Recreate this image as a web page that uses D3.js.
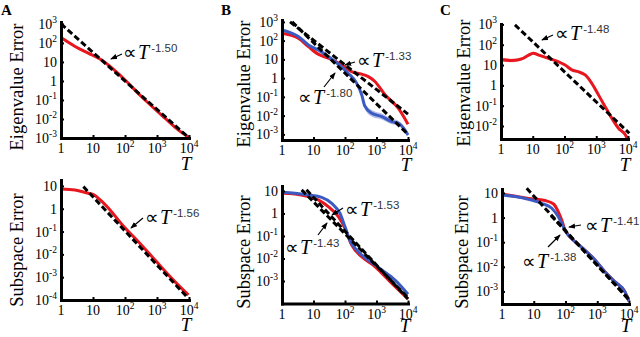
<!DOCTYPE html>
<html lang="en">
<head>
<meta charset="UTF-8">
<title>Eigenvalue and subspace error vs T</title>
<script src="https://cdnjs.cloudflare.com/ajax/libs/d3/7.8.5/d3.min.js"></script>
<style>
  body { margin: 0; background: #fff; }
  svg { display: block; font-family: "Liberation Serif", "Times New Roman", serif; }
</style>
</head>
<body>
<div id="chart"></div>
<script>
// ---- values ----
var xTicks = [1, 10, 100, 1000, 10000];

// A: eigenvalue error
var aEigT = [1, 2.75, 7.1, 18.6, 79, 330, 1780, 4680, 10000];
var aEigRed = [190, 65, 29, 12.6, 1.66, 0.148, 0.011, 0.0026, 0.0011];
var aEigFitT = [1, 10000];
var aEigFit = [1000, 0.001];

// A: subspace error
var aSubT = [1, 2.75, 7.1, 10, 18.6, 38, 79, 263, 870, 2880, 9550];
var aSubRed = [7.4, 6.6, 4.8, 4.3, 2.14, 0.74, 0.21, 0.036, 0.0056, 0.00089, 0.000166];
var aSubFitT = [5, 8500];
var aSubFit = [9.3, 0.00014];

// B: eigenvalue error
var bEigRedT = [1, 3.3, 6.9, 14.1, 29.5, 77.6, 162, 339, 550, 891, 1862, 4898, 10000];
var bEigRed = [250, 135, 48, 19, 11.5, 5.1, 2.24, 1.62, 1.2, 0.66, 0.129, 0.025, 0.0035];
var bEigBlueT = [1, 3.3, 6.9, 14.1, 29.5, 61.7, 126, 234, 339, 427, 708, 1480, 3020, 4900, 7940, 10000];
var bEigBlue = [370, 166, 59, 32, 14.1, 5.5, 1.82, 0.54, 0.129, 0.032, 0.0135, 0.0089, 0.0048, 0.004, 0.00174, 0.00093];
var bEigBlueSpread = [1.1, 1.1, 1.1, 1.1, 1.1, 1.1, 1.12, 1.15, 1.25, 1.4, 1.5, 1.45, 1.4, 1.35, 1.25, 1.2];
var bEigFit1T = [1.8, 10000];
var bEigFit1 = [1000, 0.012];
var bEigFit2T = [2.1, 10000];
var bEigFit2 = [1000, 0.001];

// B: subspace error
var bSubRedT = [1, 2.57, 6.9, 14.1, 29.5, 61.7, 100, 162, 339, 891, 3020, 10000];
var bSubRed = [7.9, 7.4, 5.6, 4.0, 2.0, 0.72, 0.22, 0.04, 0.012, 0.0044, 0.00079, 0.000158];
var bSubBlueT = [1, 2.57, 6.9, 18.2, 38, 69, 100, 141, 263, 550, 1480, 3890, 10000];
var bSubBlue = [8.7, 7.9, 6.6, 5.2, 2.8, 1.02, 0.257, 0.066, 0.02, 0.0085, 0.0031, 0.0011, 0.00026];
var bSubFit1T = [6, 10000];
var bSubFit1 = [11.2, 0.00016];
var bSubFit2T = [4.2, 10000];
var bSubFit2 = [11.2, 0.00018];

// C: eigenvalue error
var cEigT = [1, 2.2, 4.5, 7.2, 10.5, 14.8, 31, 63, 105, 170, 269, 447, 724, 1175, 1905, 3090, 5010, 8320, 10000];
var cEigRed = [18.6, 16.6, 20, 30, 38, 31.6, 21.4, 14.8, 10, 5.75, 4.7, 3.24, 1.26, 0.34, 0.089, 0.024, 0.0078, 0.0036, 0.002];
var cEigRedSpread = [1.22, 1.22, 1.2, 1.2, 1.18, 1.16, 1.15, 1.14, 1.12, 1.12, 1.1, 1.1, 1.08, 1.08, 1.06, 1.06, 1.06, 1.06, 1.06];
var cEigFitT = [2.75, 11000];
var cEigFit = [950, 0.0044];

// C: subspace error
var cSubRedT = [1, 6.8, 23, 42, 59, 76, 95, 123, 200, 407, 851, 1740, 3630, 7410, 10000];
var cSubRed = [9.1, 6.0, 4.9, 3.55, 1.74, 0.79, 0.33, 0.195, 0.105, 0.048, 0.019, 0.0063, 0.00245, 0.00098, 0.0004];
var cSubBlueT = [1, 2.57, 6.8, 17.8, 37, 59, 85, 110, 200, 407, 851, 1740, 3630, 7410, 10000];
var cSubBlue = [8.3, 7.1, 5.5, 3.8, 2.4, 1.1, 0.43, 0.23, 0.105, 0.048, 0.019, 0.0063, 0.00245, 0.00098, 0.0004];
var cSubFit1T = [6, 10000];
var cSubFit1 = [15.5, 0.00045];
var cSubFit2T = [35, 10000];
var cSubFit2 = [1.2, 0.00048];

// ---- layout ----
var RED = "#e8161e", BLUE = "#3b5bc2";

var panels = [
  { letter: "A", letterX: 1, title: "Eigenvalue Error", titleX: 23, titleY: 87,
    x0: 61, x1: 189, yTop: 22, yBot: 138, yMin: -3, yMax: 3.1, yTicks: [-3, -2, -1, 0, 1, 2, 3], tX: 186, tY: 170,
    curves: [{ T: aEigT, v: aEigRed, color: RED }],
    fits: [{ T: aEigFitT, v: aEigFit }],
    notes: [{ exp: "-1.50", x: 123, y: 59, from: [122, 54], to: [111, 59] }] },
  { title: "Subspace Error", titleX: 23, titleY: 250,
    x0: 61, x1: 189, yTop: 180, yBot: 300, yMin: -4, yMax: 1.26, yTicks: [-4, -3, -2, -1, 0, 1], tX: 186, tY: 331,
    curves: [{ T: aSubT, v: aSubRed, color: RED }],
    fits: [{ T: aSubFitT, v: aSubFit }],
    notes: [{ exp: "-1.56", x: 145, y: 224, from: [143, 218], to: [131, 228] }] },
  { letter: "B", letterX: 221, title: "Eigenvalue Error", titleX: 250, titleY: 84,
    x0: 282, x1: 408, yTop: 20, yBot: 140, yMin: -3.3, yMax: 3.1, yTicks: [-3, -2, -1, 0, 1, 2, 3], tX: 406, tY: 171,
    curves: [{ T: bEigRedT, v: bEigRed, color: RED },
             { T: bEigBlueT, v: bEigBlue, color: BLUE, spread: bEigBlueSpread }],
    fits: [{ T: bEigFit1T, v: bEigFit1 }, { T: bEigFit2T, v: bEigFit2 }],
    notes: [{ exp: "-1.33", x: 357, y: 67, from: [355, 62], to: [345, 65] },
            { exp: "-1.80", x: 298, y: 104, from: [324, 87], to: [335, 73] }] },
  { title: "Subspace Error", titleX: 250, titleY: 252,
    x0: 282, x1: 408, yTop: 186, yBot: 303.5, yMin: -4, yMax: 1.22, yTicks: [-3, -2, -1, 0, 1], tX: 405, tY: 332,
    curves: [{ T: bSubRedT, v: bSubRed, color: RED }, { T: bSubBlueT, v: bSubBlue, color: BLUE }],
    fits: [{ T: bSubFit1T, v: bSubFit1 }, { T: bSubFit2T, v: bSubFit2 }],
    notes: [{ exp: "-1.53", x: 345, y: 216, from: [343, 208], to: [332, 215] },
            { exp: "-1.43", x: 285, y: 254, from: [318, 235], to: [327, 223] }] },
  { letter: "C", letterX: 440, title: "Eigenvalue Error", titleX: 470, titleY: 83,
    x0: 501, x1: 628, yTop: 24, yBot: 139, yMin: -2.64, yMax: 3.02, yTicks: [-2, -1, 0, 1, 2, 3], tX: 625, tY: 171,
    curves: [{ T: cEigT, v: cEigRed, color: RED, spread: cEigRedSpread }],
    fits: [{ T: cEigFitT, v: cEigFit }],
    notes: [{ exp: "-1.48", x: 555, y: 40, from: [553, 35], to: [542, 40] }] },
  { title: "Subspace Error", titleX: 468, titleY: 252,
    x0: 502, x1: 629, yTop: 189, yBot: 304, yMin: -3.51, yMax: 1.16, yTicks: [-3, -2, -1, 0, 1], tX: 626, tY: 332,
    curves: [{ T: cSubRedT, v: cSubRed, color: RED }, { T: cSubBlueT, v: cSubBlue, color: BLUE }],
    fits: [{ T: cSubFit1T, v: cSubFit1 }, { T: cSubFit2T, v: cSubFit2 }],
    notes: [{ exp: "-1.41", x: 585, y: 232, from: [581, 225], to: [569, 227] },
            { exp: "-1.38", x: 522, y: 268, from: [548, 247], to: [560, 235] }] }
];

var svg = d3.select("#chart").append("svg").attr("width", 640).attr("height", 337);

svg.append("defs").append("marker")
  .attr("id", "arrow").attr("viewBox", "0 0 8 6").attr("refX", 7).attr("refY", 3)
  .attr("markerWidth", 7).attr("markerHeight", 6).attr("markerUnits", "userSpaceOnUse")
  .attr("orient", "auto")
  .append("path").attr("d", "M0,0L8,3L0,6Z").attr("fill", "#000");

function powLabel(sel, e) {
  if (e === 0) { sel.text("1"); return; }
  if (e === 1) { sel.text("10"); return; }
  sel.append("tspan").text("10");
  sel.append("tspan").attr("dy", -6).attr("font-size", 9.5).text(e);
}

panels.forEach(function (p) {
  var g = svg.append("g");
  var x = d3.scaleLog().domain([1, 1e4]).range([p.x0, p.x1]);
  var y = d3.scaleLog().domain([Math.pow(10, p.yMin), Math.pow(10, p.yMax)]).range([p.yBot, p.yTop]);

  var line = d3.line().x(d => x(d[0])).y(d => y(d[1])).curve(d3.curveMonotoneX);
  var area = d3.area().x(d => x(d[0])).y0(d => y(d[1] / d[2])).y1(d => y(d[1] * d[2]))
    .curve(d3.curveMonotoneX);

  // curves (with shaded spread where there is one)
  p.curves.forEach(function (c) {
    var pts = c.T.map((t, i) => [t, c.v[i], c.spread ? c.spread[i] : 1]);
    if (c.spread) {
      g.append("path").datum(pts).attr("d", area)
        .attr("fill", c.color).attr("fill-opacity", 0.4);
    }
    g.append("path").datum(pts).attr("d", line)
      .attr("fill", "none").attr("stroke", c.color).attr("stroke-width", 3);
  });

  // power-law fits
  p.fits.forEach(function (f) {
    var pts = f.T.map((t, i) => [t, f.v[i]]);
    g.append("path").datum(pts).attr("d", d3.line().x(d => x(d[0])).y(d => y(d[1])))
      .attr("fill", "none").attr("stroke", "#000").attr("stroke-width", 3)
      .attr("stroke-dasharray", "6,3");
  });

  // axes
  var xa = g.append("g").attr("transform", "translate(0," + p.yBot + ")")
    .call(d3.axisBottom(x).tickValues(xTicks).tickSize(-3).tickSizeOuter(0).tickFormat(""));
  var ya = g.append("g").attr("transform", "translate(" + p.x0 + ",0)")
    .call(d3.axisLeft(y).tickValues(p.yTicks.map(e => Math.pow(10, e))).tickSize(-3).tickSizeOuter(0).tickFormat(""));
  [xa, ya].forEach(function (a) {
    a.select(".domain").attr("stroke", "#000").attr("stroke-width", 3).attr("stroke-linecap", "square");
    a.selectAll(".tick line").attr("stroke", "#000").attr("stroke-width", 2);
  });

  // tick labels
  xTicks.forEach(function (t) {
    g.append("text").attr("x", x(t)).attr("y", p.yBot + 15).attr("text-anchor", "middle")
      .attr("font-size", 14).call(powLabel, Math.round(Math.log10(t)));
  });
  p.yTicks.forEach(function (e) {
    g.append("text").attr("x", p.x0 - 4).attr("y", y(Math.pow(10, e)) + 5).attr("text-anchor", "end")
      .attr("font-size", 14).call(powLabel, e);
  });

  // axis titles
  g.append("text").attr("transform", "translate(" + p.titleX + "," + p.titleY + ") rotate(-90)")
    .attr("text-anchor", "middle").attr("font-size", 18.5).text(p.title);
  g.append("text").attr("x", p.tX).attr("y", p.tY).attr("text-anchor", "middle")
    .attr("font-size", 19).attr("font-style", "italic").text("T");

  if (p.letter) {
    g.append("text").attr("x", p.letterX).attr("y", 15).attr("font-size", 15)
      .attr("font-weight", "bold").text(p.letter);
  }

  // annotations
  p.notes.forEach(function (n) {
    g.append("line").attr("x1", n.from[0]).attr("y1", n.from[1]).attr("x2", n.to[0]).attr("y2", n.to[1])
      .attr("stroke", "#000").attr("stroke-width", 1.2).attr("marker-end", "url(#arrow)");
    var t = g.append("text").attr("x", n.x).attr("y", n.y);
    t.append("tspan").attr("font-size", 19).text("\u221D");
    t.append("tspan").attr("font-size", 20).attr("font-style", "italic").attr("dx", 1).text("T");
    t.append("tspan").attr("font-family", "'Liberation Sans', Arial, sans-serif").attr("font-size", 11.5)
      .attr("fill", "#333").attr("dx", 2).attr("dy", -7).text(n.exp);
  });
});
</script>
</body>
</html>
